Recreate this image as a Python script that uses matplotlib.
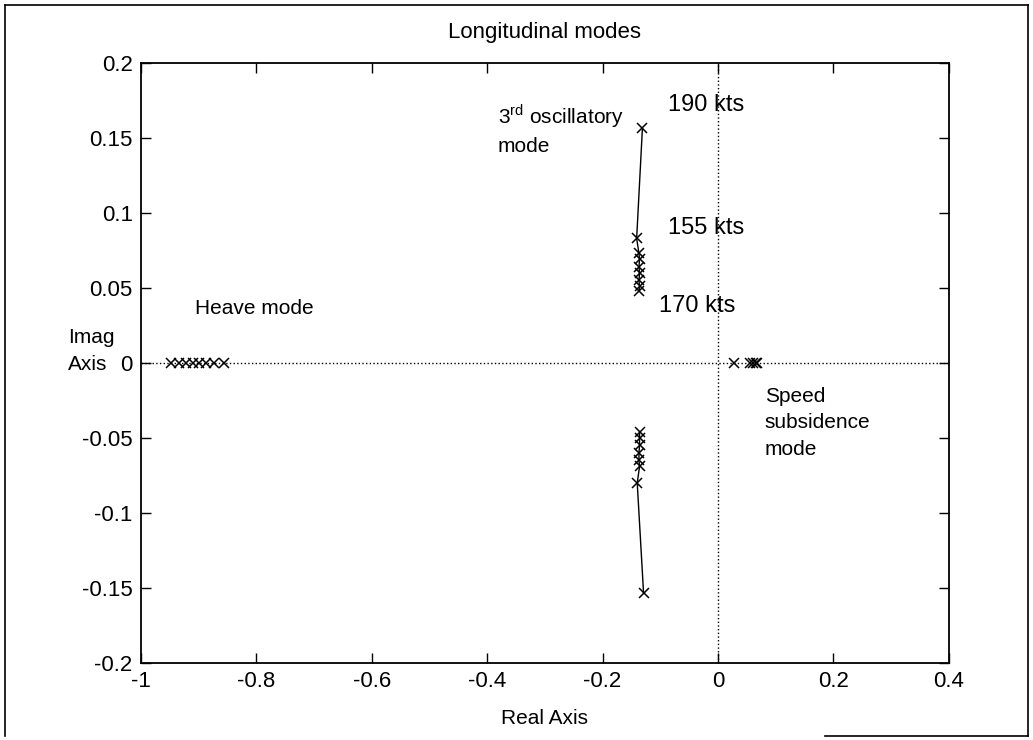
import matplotlib.pyplot as plt
import numpy as np
from matplotlib.lines import Line2D

plt.rcParams['font.family'] = ['Liberation Sans', 'DejaVu Sans']

# poles
heave_re = [-0.948, -0.934, -0.922, -0.910, -0.899, -0.888, -0.874, -0.856]
heave_im = [0, 0, 0, 0, 0, 0, 0, 0]

speed_re = [0.027, 0.056, 0.061, 0.065, 0.068]
speed_im = [0, 0, 0, 0, 0]

# 3rd oscillatory mode, upper branch (top point = 190 kts)
osc_up_re = [-0.131, -0.141, -0.137, -0.136, -0.137, -0.136, -0.137, -0.136, -0.137]
osc_up_im = [0.1565, 0.083, 0.073, 0.069, 0.064, 0.060, 0.055, 0.051, 0.048]

# lower branch (bottom point = 190 kts)
osc_lo_re = [-0.136, -0.136, -0.136, -0.137, -0.137, -0.136, -0.140, -0.129]
osc_lo_im = [-0.046, -0.050, -0.055, -0.060, -0.065, -0.069, -0.080, -0.1535]

fig = plt.figure(figsize=(10.33, 7.4), dpi=100)
ax = fig.add_axes([0.1365, 0.104, 0.782, 0.811])

# dotted real / imag axes
ax.axhline(0, color='k', ls=':', lw=1.0)
ax.axvline(0, color='k', ls=':', lw=1.0)

ax.plot(osc_up_re, osc_up_im, 'k-', lw=1.0)
ax.plot(osc_lo_re, osc_lo_im, 'k-', lw=1.0)
for re, im in [(heave_re, heave_im), (speed_re, speed_im),
               (osc_up_re, osc_up_im), (osc_lo_re, osc_lo_im)]:
    ax.plot(re, im, 'kx', ms=7, mew=1.1, ls='none')

ax.set_xlim(-1, 0.4)
ax.set_ylim(-0.2, 0.2)
ax.set_xticks(np.arange(-1, 0.41, 0.2))
ax.set_yticks(np.arange(-0.2, 0.21, 0.05))
ax.set_xticklabels(['-1', '-0.8', '-0.6', '-0.4', '-0.2', '0', '0.2', '0.4'])
ax.set_yticklabels(['-0.2', '-0.15', '-0.1', '-0.05', '0', '0.05', '0.1', '0.15', '0.2'])
ax.tick_params(direction='in', top=True, right=True, length=7, width=1.0,
               labelsize=16, pad=6)
for s in ax.spines.values():
    s.set_linewidth(1.3)

ax.set_title('Longitudinal modes', fontsize=16, pad=18)
ax.set_xlabel('Real Axis', fontsize=15, labelpad=12)
ax.set_ylabel('Imag\nAxis', fontsize=15, rotation=0, ha='left', va='center',
              multialignment='left', labelpad=0, linespacing=1.5)
ax.yaxis.set_label_coords(-0.09, 0.52)

ax.text(-0.382, 0.156, '3$^{\\mathregular{rd}}$ oscillatory\nmode', fontsize=15,
        va='center', ha='left', linespacing=1.45)
ax.text(-0.086, 0.172, '190 kts', fontsize=17, va='center')
ax.text(-0.086, 0.090, '155 kts', fontsize=17, va='center')
ax.text(-0.103, 0.038, '170 kts', fontsize=17, va='center')
ax.text(-0.906, 0.036, 'Heave mode', fontsize=15, va='center')
ax.text(0.081, -0.040, 'Speed\nsubsidence\nmode', fontsize=15, va='center',
        linespacing=1.5)

# scanned outer frame
W, H = 1033, 740
for (x0, y0, x1, y1) in [(5, 5, 1028, 5), (5, 5, 5, 736), (1028, 5, 1028, 736),
                         (825, 736, 1028, 736)]:
    fig.add_artist(Line2D([x0 / W, x1 / W], [1 - y0 / H, 1 - y1 / H],
                          color='k', lw=1.2))

fig.savefig('out.png', dpi=100)
